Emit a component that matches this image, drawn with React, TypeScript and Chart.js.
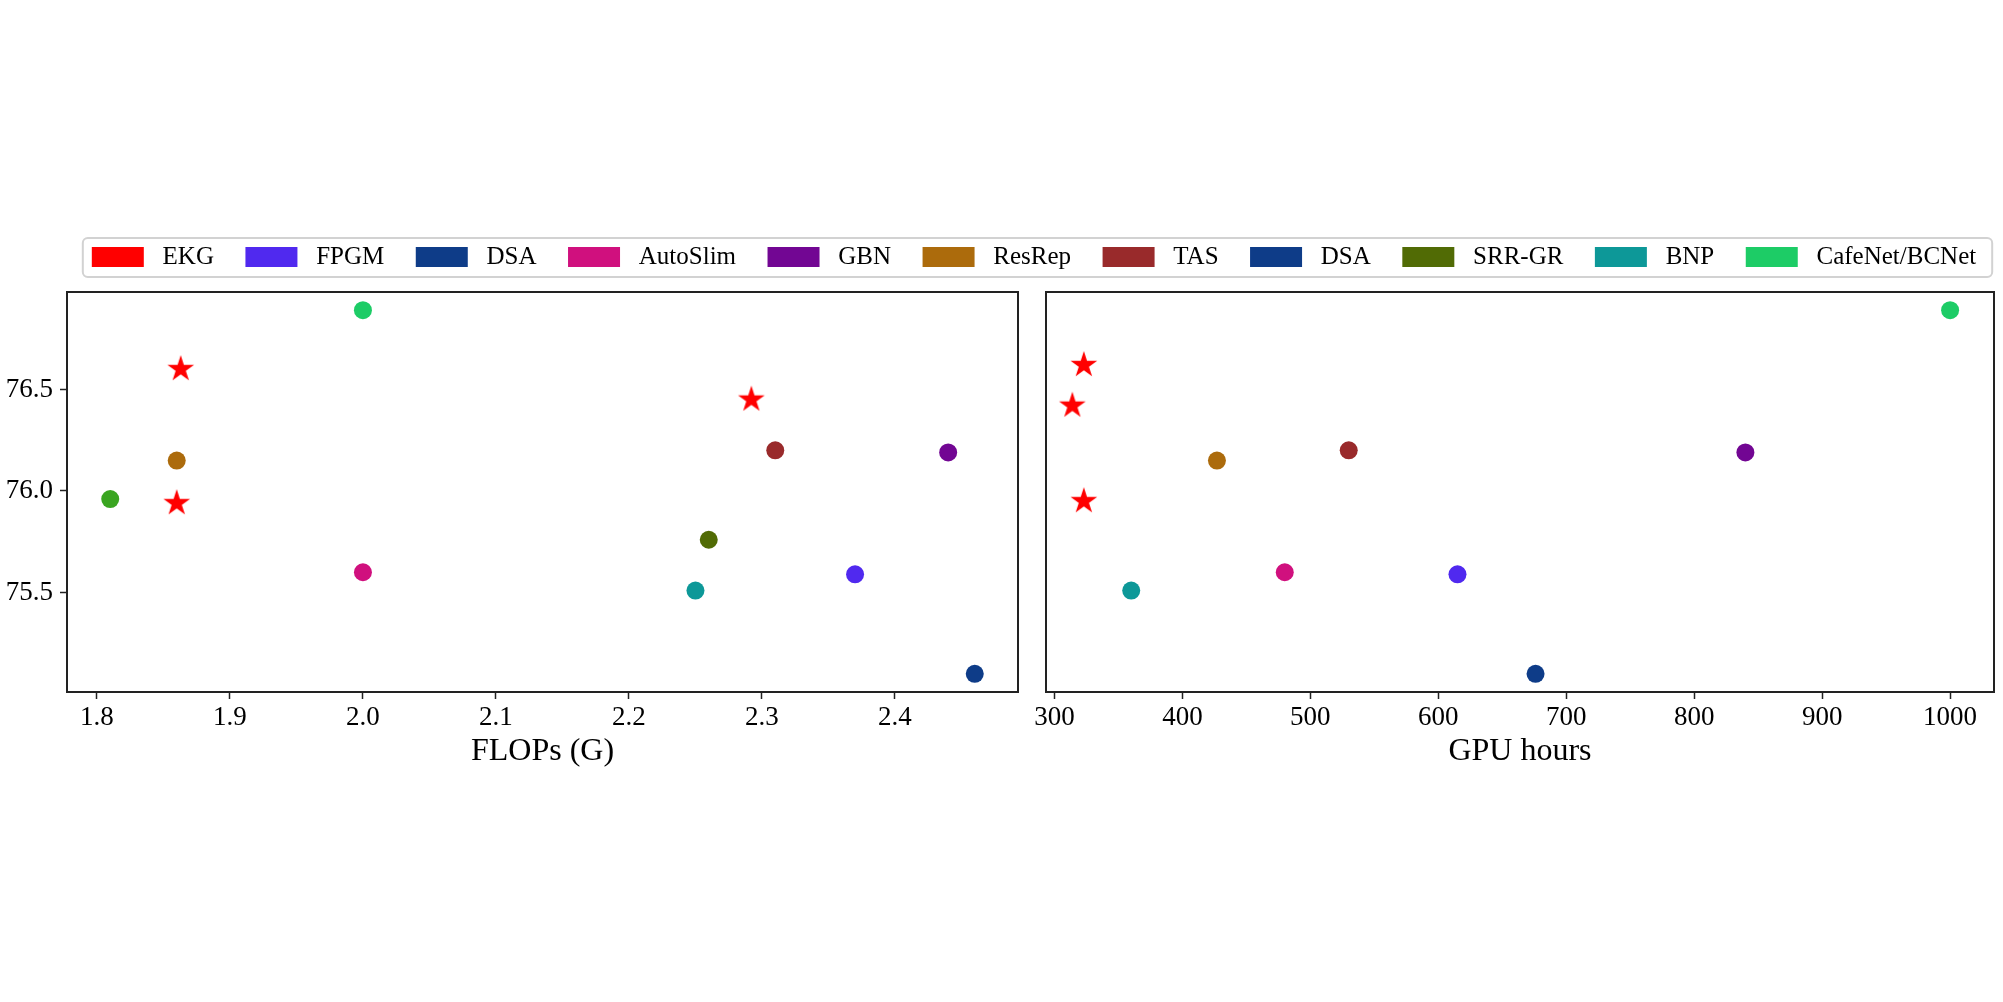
import React, { useEffect, useRef } from 'react';
import { Chart, registerables } from 'chart.js';

Chart.register(...registerables);

const FONT = "'Liberation Serif', 'Times New Roman', serif";

// ---- Legend entries (methods) ----
const methodNames = ['EKG', 'FPGM', 'DSA', 'AutoSlim', 'GBN', 'ResRep', 'TAS', 'DSA', 'SRR-GR', 'BNP', 'CafeNet/BCNet'];
const methodColors = ['#ff0000', '#5029ef', '#0e3c88', '#d0107e', '#720693', '#ac6b0c', '#992a2b', '#0e3c88', '#516b05', '#0d9898', '#1dcc66'];

// ---- Left panel: FLOPs (G) vs accuracy ----
const flopsX: number[][] = [
  [1.863, 2.292, 1.86],
  [2.37],
  [2.46],
  [2.0],
  [2.44],
  [1.86],
  [2.31],
  [],
  [2.26],
  [2.25],
  [2.0],
];
const flopsAcc: number[][] = [
  [76.6, 76.45, 75.94],
  [75.59],
  [75.1],
  [75.6],
  [76.19],
  [76.15],
  [76.2],
  [],
  [75.76],
  [75.51],
  [76.89],
];
// extra unlabeled point in the FLOPs panel
const extraFlopsX = [1.81];
const extraFlopsAcc = [75.96];
const extraColor = '#3aa521';

// ---- Right panel: GPU hours vs accuracy ----
const gpuX: number[][] = [
  [323, 314, 323],
  [615],
  [676],
  [480],
  [840],
  [427],
  [530],
  [],
  [],
  [360],
  [1000],
];
const gpuAcc: number[][] = [
  [76.62, 76.42, 75.95],
  [75.59],
  [75.1],
  [75.6],
  [76.19],
  [76.15],
  [76.2],
  [],
  [],
  [75.51],
  [76.89],
];

// ---- Axes ----
const flopsTicks = [1.8, 1.9, 2.0, 2.1, 2.2, 2.3, 2.4];
const gpuTicks = [300, 400, 500, 600, 700, 800, 900, 1000];
const accTicks = [75.5, 76.0, 76.5];
const flopsRange = [1.7775, 2.4925];
const gpuRange = [293.4, 1034.3];
const accRange = [75.0105, 76.9795];

function makeStar(color: string, R: number): HTMLCanvasElement {
  const c = document.createElement('canvas');
  const s = Math.ceil(2 * R + 2);
  c.width = s;
  c.height = s;
  const ctx = c.getContext('2d')!;
  const cx = s / 2;
  const cy = s / 2;
  const ri = R * 0.382;
  ctx.beginPath();
  for (let i = 0; i < 10; i++) {
    const a = -Math.PI / 2 + (i * Math.PI) / 5;
    const r = i % 2 === 0 ? R : ri;
    const x = cx + r * Math.cos(a);
    const y = cy + r * Math.sin(a);
    if (i === 0) ctx.moveTo(x, y);
    else ctx.lineTo(x, y);
  }
  ctx.closePath();
  ctx.fillStyle = color;
  ctx.fill();
  return c;
}

const framePlugin = {
  id: 'frame',
  afterDraw(chart: any) {
    const { ctx, chartArea } = chart;
    ctx.save();
    ctx.strokeStyle = '#222';
    ctx.lineWidth = 2;
    ctx.strokeRect(chartArea.left, chartArea.top, chartArea.right - chartArea.left, chartArea.bottom - chartArea.top);
    ctx.restore();
  },
};

const legendFramePlugin = {
  id: 'legendFrame',
  afterDraw(chart: any) {
    const lg: any = chart.legend;
    const hb = lg && lg.legendHitBoxes;
    if (!hb || !hb.length) return;
    const first = hb[0];
    const last = hb[hb.length - 1];
    const x0 = first.left - 9;
    const x1 = last.left + last.width + 16;
    const y0 = first.top + 2.5 - 9;
    const y1 = first.top + 2.5 + 20 + 10;
    const r = 5;
    const ctx = chart.ctx;
    ctx.save();
    ctx.strokeStyle = '#d2d2d2';
    ctx.lineWidth = 2;
    ctx.beginPath();
    ctx.moveTo(x0 + r, y0);
    ctx.lineTo(x1 - r, y0);
    ctx.arcTo(x1, y0, x1, y0 + r, r);
    ctx.lineTo(x1, y1 - r);
    ctx.arcTo(x1, y1, x1 - r, y1, r);
    ctx.lineTo(x0 + r, y1);
    ctx.arcTo(x0, y1, x0, y1 - r, r);
    ctx.lineTo(x0, y0 + r);
    ctx.arcTo(x0, y0, x0 + r, y0, r);
    ctx.closePath();
    ctx.stroke();
    ctx.restore();
  },
};

function plotConfig(
  xs: number[][],
  ys: number[][],
  extra: { x: number[]; y: number[]; color: string } | null,
  xRange: number[],
  xTicks: number[],
  xDecimals: number,
  xTitle: string,
  showY: boolean,
  yWidth: number,
  padRight: number
): any {
  const star = makeStar(methodColors[0], 14);
  const datasets: any[] = [];
  methodNames.forEach((name, i) => {
    datasets.push({
      label: name,
      data: xs[i].map((x, j) => ({ x, y: ys[i][j] })),
      backgroundColor: methodColors[i],
      borderColor: methodColors[i],
      borderWidth: 0,
      pointRadius: 9,
      pointHoverRadius: 9,
      pointStyle: i === 0 ? star : 'circle',
    });
  });
  if (extra) {
    datasets.push({
      label: '',
      data: extra.x.map((x, j) => ({ x, y: extra.y[j] })),
      backgroundColor: extra.color,
      borderColor: extra.color,
      borderWidth: 0,
      pointRadius: 9,
      pointHoverRadius: 9,
      pointStyle: 'circle',
    });
  }
  const tickFont = { family: FONT, size: 27 };
  return {
    type: 'scatter',
    data: { datasets },
    options: {
      responsive: false,
      animation: false,
      devicePixelRatio: 1,
      layout: { padding: { left: 0, top: 12, right: padRight, bottom: 0 } },
      plugins: { legend: { display: false }, tooltip: { enabled: false } },
      scales: {
        x: {
          type: 'linear',
          min: xRange[0],
          max: xRange[1],
          afterBuildTicks: (s: any) => {
            s.ticks = xTicks.map((v) => ({ value: v }));
          },
          afterFit: (s: any) => {
            s.height = 108;
            s.paddingLeft = 0;
            s.paddingRight = 0;
          },
          ticks: {
            color: '#000',
            font: tickFont,
            padding: 3,
            maxRotation: 0,
            autoSkip: false,
            callback: (v: any) => Number(v).toFixed(xDecimals),
          },
          grid: {
            display: true,
            drawOnChartArea: false,
            drawTicks: true,
            tickLength: 7,
            tickWidth: 1.5,
            tickColor: '#222',
            color: '#222',
          },
          border: { display: false },
          title: {
            display: true,
            text: xTitle,
            color: '#000',
            font: { family: FONT, size: 32 },
            padding: { top: 0, bottom: 29 },
          },
        },
        y: {
          type: 'linear',
          min: accRange[0],
          max: accRange[1],
          afterBuildTicks: (s: any) => {
            s.ticks = accTicks.map((v) => ({ value: v }));
          },
          afterFit: (s: any) => {
            s.width = yWidth;
            s.paddingTop = 0;
            s.paddingBottom = 0;
          },
          ticks: {
            display: showY,
            color: '#000',
            font: tickFont,
            padding: 7,
            autoSkip: false,
            callback: (v: any) => Number(v).toFixed(1),
          },
          grid: {
            display: true,
            drawOnChartArea: false,
            drawTicks: showY,
            tickLength: 7,
            tickWidth: 1.5,
            tickColor: '#222',
            color: '#222',
          },
          border: { display: false },
        },
      },
    },
    plugins: [framePlugin],
  };
}

function legendConfig(): any {
  return {
    type: 'scatter',
    data: {
      datasets: methodNames.map((name, i) => ({
        label: name,
        data: [],
        backgroundColor: methodColors[i],
        borderColor: methodColors[i],
        borderWidth: 0,
      })),
    },
    options: {
      responsive: false,
      animation: false,
      devicePixelRatio: 1,
      layout: { padding: 0 },
      scales: { x: { display: false }, y: { display: false } },
      plugins: {
        tooltip: { enabled: false },
        legend: {
          display: true,
          position: 'top',
          align: 'center',
          labels: {
            boxWidth: 52,
            boxHeight: 20,
            padding: 31.5,
            color: '#000',
            font: { family: FONT, size: 25 },
            generateLabels: (chart: any) =>
              (Chart.defaults.plugins.legend.labels as any)
                .generateLabels(chart)
                .map((l: any) => ({ ...l, text: ' ' + l.text, lineWidth: 0 })),
          },
        },
      },
    },
    plugins: [legendFramePlugin],
  };
}

export default function App() {
  const legendRef = useRef<HTMLCanvasElement>(null);
  const leftRef = useRef<HTMLCanvasElement>(null);
  const rightRef = useRef<HTMLCanvasElement>(null);

  useEffect(() => {
    const charts: Chart[] = [];
    charts.push(new Chart(legendRef.current!, legendConfig()));
    charts.push(
      new Chart(
        leftRef.current!,
        plotConfig(flopsX, flopsAcc, { x: extraFlopsX, y: extraFlopsAcc, color: extraColor }, flopsRange, flopsTicks, 1, 'FLOPs (G)', true, 67, 12)
      )
    );
    charts.push(
      new Chart(rightRef.current!, plotConfig(gpuX, gpuAcc, null, gpuRange, gpuTicks, 0, 'GPU hours', false, 16, 6))
    );
    return () => charts.forEach((c) => c.destroy());
  }, []);

  return (
    <div style={{ position: 'absolute', left: 0, top: 0, width: 2003, height: 1002, overflow: 'hidden', background: '#fff' }}>
      <canvas
        ref={leftRef}
        width={1030}
        height={520}
        style={{ position: 'absolute', left: 0, top: 280, width: 1030, height: 520 }}
      />
      <canvas
        ref={rightRef}
        width={973}
        height={520}
        style={{ position: 'absolute', left: 1030, top: 280, width: 973, height: 520 }}
      />
      <canvas
        ref={legendRef}
        width={2200}
        height={220}
        style={{ position: 'absolute', left: -66, top: 213, width: 2200, height: 220, pointerEvents: 'none' }}
      />
    </div>
  );
}
